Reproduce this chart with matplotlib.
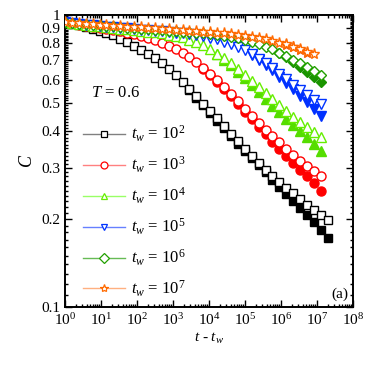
import numpy as np
import matplotlib
matplotlib.use("Agg")
import matplotlib.pyplot as plt
from matplotlib.lines import Line2D
from matplotlib.ticker import FixedLocator, FixedFormatter, LogLocator, NullFormatter

plt.rcParams['font.family'] = ['Liberation Serif', 'DejaVu Serif']
plt.rcParams['mathtext.fontset'] = 'custom'
plt.rcParams['mathtext.rm'] = 'Liberation Serif'
plt.rcParams['mathtext.it'] = 'Liberation Serif:italic'

# t - t_w (common time grid of the measurements)
t = [1, 1.56, 2.42, 3.77, 5.86, 9.13, 14.2, 22.1, 34.4, 53.6,
     83.4, 130, 202, 314, 489, 762, 1186, 1845, 2871, 4467,
     6950, 10815, 16830, 26180, 40830, 63530, 98850, 153800, 239300, 372400,
     579400, 901600, 1.403e6, 2.183e6, 3.404e6, 5.297e6, 8.241e6, 1.282e7, 1.995e7]

tw_labels = ['2', '3', '4', '5', '6', '7']

# open symbols
C_open_2 = [0.945, 0.934, 0.922, 0.910, 0.897, 0.883, 0.868, 0.851, 0.831, 0.808,
            0.781, 0.757, 0.733, 0.710, 0.683, 0.653, 0.623, 0.590, 0.557, 0.526,
            0.497, 0.470, 0.443, 0.417, 0.392, 0.369, 0.347, 0.328, 0.311, 0.295,
            0.281, 0.268, 0.256, 0.245, 0.234, 0.224, 0.215, 0.207, 0.199]
C_open_3 = [0.945, 0.936, 0.928, 0.920, 0.912, 0.904, 0.896, 0.888, 0.879, 0.870,
            0.860, 0.849, 0.836, 0.820, 0.803, 0.785, 0.765, 0.743, 0.718, 0.690,
            0.661, 0.630, 0.598, 0.567, 0.536, 0.506, 0.478, 0.452, 0.428, 0.405,
            0.385, 0.366, 0.348, 0.332, 0.317, 0.304, 0.292, 0.281]
C_open_4 = [0.945, 0.938, 0.932, 0.926, 0.920, 0.914, 0.909, 0.904, 0.899, 0.894,
            0.889, 0.884, 0.878, 0.872, 0.865, 0.857, 0.848, 0.838, 0.824, 0.808,
            0.787, 0.764, 0.738, 0.711, 0.683, 0.653, 0.623, 0.594, 0.566, 0.539,
            0.514, 0.490, 0.468, 0.448, 0.430, 0.413, 0.397, 0.382]
C_open_5 = [0.945, 0.939, 0.933, 0.928, 0.923, 0.918, 0.913, 0.908, 0.904, 0.900,
            0.896, 0.892, 0.888, 0.884, 0.880, 0.876, 0.871, 0.866, 0.860, 0.853,
            0.845, 0.836, 0.825, 0.811, 0.795, 0.777, 0.756, 0.733, 0.709, 0.683,
            0.657, 0.630, 0.603, 0.577, 0.553, 0.531, 0.511, 0.494]
C_open_6 = [0.945, 0.940, 0.935, 0.930, 0.926, 0.922, 0.918, 0.914, 0.910, 0.906,
            0.903, 0.899, 0.896, 0.892, 0.889, 0.885, 0.882, 0.878, 0.874, 0.870,
            0.866, 0.861, 0.855, 0.849, 0.842, 0.833, 0.823, 0.810, 0.795, 0.779,
            0.762, 0.744, 0.724, 0.704, 0.683, 0.662, 0.641, 0.622]
C_open_7 = [0.945, 0.941, 0.937, 0.933, 0.929, 0.926, 0.922, 0.919, 0.916, 0.913,
            0.910, 0.907, 0.904, 0.901, 0.898, 0.895, 0.892, 0.889, 0.885, 0.882,
            0.878, 0.874, 0.870, 0.865, 0.860, 0.854, 0.848, 0.841, 0.833, 0.825,
            0.815, 0.805, 0.793, 0.780, 0.766, 0.750, 0.733]

# filled symbols (only where they separate from the open ones)
start_fill = [18, 20, 22, 27, 31, 32]
C_fill_2 = [0.552, 0.520, 0.490, 0.462, 0.435, 0.409, 0.385, 0.362, 0.341, 0.323,
            0.307, 0.289, 0.273, 0.258, 0.243, 0.230, 0.218, 0.207, 0.195, 0.183, 0.172]
C_fill_3 = [0.655, 0.623, 0.590, 0.557, 0.526, 0.496, 0.467, 0.440, 0.414, 0.390,
            0.368, 0.348, 0.329, 0.311, 0.295, 0.280, 0.265, 0.250]
C_fill_4 = [0.733, 0.703, 0.672, 0.640, 0.607, 0.576, 0.545, 0.516, 0.489, 0.464,
            0.441, 0.420, 0.400, 0.381, 0.362, 0.342]
C_fill_5 = [0.730, 0.703, 0.675, 0.646, 0.615, 0.585, 0.556, 0.529, 0.503, 0.477, 0.452]
C_fill_6 = [0.740, 0.716, 0.690, 0.664, 0.638, 0.612, 0.588]
C_fill_7 = [0.790, 0.776, 0.760, 0.743]

C_open = [C_open_2, C_open_3, C_open_4, C_open_5, C_open_6, C_open_7]
C_fill = [C_fill_2, C_fill_3, C_fill_4, C_fill_5, C_fill_6, C_fill_7]

colors = ['#000000', '#ff0000', '#66ee00', '#0033ff', '#22a000', '#ff6a00']
fill_colors = ['#000000', '#ff0000', '#55dd00', '#0030ff', '#1a9400', '#f05a00']
leg_colors = ['#808080', '#ff8080', '#99ff66', '#6680ff', '#66bb55', '#ffb080']
markers = ['s', 'o', '^', 'v', 'D', '*']
msizes = [6, 6.5, 7, 7, 5.5, 8]

fig = plt.figure(figsize=(3.82, 3.71), dpi=100)
ax = fig.add_axes([0.170, 0.1725, 0.754, 0.787])

for i in range(6):
    tt = np.array(t[start_fill[i]:start_fill[i] + len(C_fill[i])])
    ax.plot(tt, C_fill[i], ls='none', marker=markers[i], ms=msizes[i],
            mfc=fill_colors[i], mec=fill_colors[i], mew=1.0, zorder=2)
for i in range(6):
    tt = np.array(t[:len(C_open[i])])
    ax.plot(tt, C_open[i], ls='none', marker=markers[i], ms=msizes[i],
            mfc='white', mec=colors[i], mew=1.0, zorder=3)

ax.set_xscale('log')
ax.set_yscale('log')
ax.set_xlim(1, 1e8)
ax.set_ylim(0.1, 1)

yt = [0.1, 0.2, 0.3, 0.4, 0.5, 0.6, 0.7, 0.8, 0.9, 1]
ax.yaxis.set_major_locator(FixedLocator(yt))
ax.yaxis.set_major_formatter(FixedFormatter(['0.1', '0.2', '0.3', '0.4', '0.5',
                                             '0.6', '0.7', '0.8', '0.9', '1']))
ax.yaxis.set_minor_locator(FixedLocator(np.arange(0.11, 1.0, 0.01)))
ax.yaxis.set_minor_formatter(NullFormatter())
ax.xaxis.set_major_locator(LogLocator(base=10, numticks=20))
ax.xaxis.set_minor_locator(LogLocator(base=10, subs=np.arange(2, 10), numticks=20))
ax.xaxis.set_minor_formatter(NullFormatter())

ax.tick_params(which='both', direction='in', top=True, right=True, width=1.0,
               labelsize=11, pad=3)
ax.tick_params(axis='x', pad=4)
ax.tick_params(which='major', length=5)
ax.tick_params(which='minor', length=2.5)
for sp in ax.spines.values():
    sp.set_linewidth(1.4)

ax.set_xlabel(r'$t$ - $t_w$', fontsize=11, labelpad=2)
ax.set_ylabel(r'$C$', fontsize=13, labelpad=4)

ax.text(0.09, 0.72, r'$T$ = 0.6', transform=ax.transAxes, fontsize=12)
ax.text(0.985, 0.03, '(a)', transform=ax.transAxes, fontsize=11, ha='right')

handles = [Line2D([], [], color=leg_colors[i], lw=1.0, marker=markers[i],
                  ms=5 if markers[i] != '*' else 6, mfc='white',
                  mec=colors[i], mew=0.9) for i in range(6)]
labels = [r'$t_w$ = 10$^{%s}$' % s for s in tw_labels]
ax.legend(handles, labels, loc='upper left', bbox_to_anchor=(0.04, 0.65),
          frameon=False, fontsize=12, handlelength=2.5, handletextpad=0.4,
          labelspacing=0.64, borderaxespad=0)

fig.savefig('out.png', dpi=100)
